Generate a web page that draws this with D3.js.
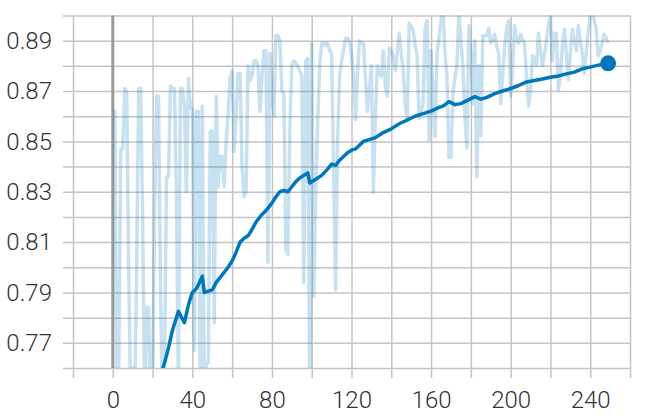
<!DOCTYPE html>
<html>
<head>
<meta charset="utf-8">
<script src="https://cdn.jsdelivr.net/npm/d3@7"></script>
<style>
  body { margin: 0; background: #fff; }
  text { font-family: Roboto, "Noto Sans", sans-serif; }
</style>
</head>
<body>
<div id="my_dataviz"></div>
<script>
// raw accuracy, one value per step (0 .. 249)
var rawValues = [
  0.862, 0.862, 0.745, 0.760, 0.847, 0.847, 0.871, 0.870, 0.800, 0.745,
  0.760, 0.745, 0.800, 0.871, 0.871, 0.820, 0.745, 0.784, 0.784, 0.745,
  0.750, 0.820, 0.868, 0.868, 0.790, 0.745, 0.760, 0.836, 0.836, 0.872,
  0.871, 0.871, 0.829, 0.750, 0.871, 0.871, 0.864, 0.830, 0.875, 0.863,
  0.863, 0.767, 0.862, 0.862, 0.745, 0.864, 0.745, 0.762, 0.762, 0.854,
  0.854, 0.778, 0.868, 0.832, 0.844, 0.844, 0.832, 0.850, 0.861, 0.875,
  0.878, 0.846, 0.860, 0.877, 0.877, 0.840, 0.828, 0.830, 0.880, 0.874,
  0.876, 0.882, 0.882, 0.880, 0.862, 0.876, 0.886, 0.886, 0.802, 0.885,
  0.870, 0.860, 0.892, 0.892, 0.890, 0.870, 0.869, 0.807, 0.805, 0.855,
  0.880, 0.882, 0.881, 0.880, 0.878, 0.876, 0.794, 0.882, 0.883, 0.745,
  0.889, 0.7885, 0.830, 0.858, 0.880, 0.889, 0.889, 0.888, 0.889, 0.886,
  0.885, 0.840, 0.791, 0.850, 0.876, 0.882, 0.886, 0.891, 0.891, 0.890,
  0.884, 0.877, 0.8586, 0.876, 0.890, 0.889, 0.889, 0.875, 0.862, 0.870,
  0.880, 0.8297, 0.860, 0.880, 0.877, 0.876, 0.886, 0.872, 0.868, 0.887,
  0.886, 0.884, 0.878, 0.885, 0.893, 0.885, 0.878, 0.865, 0.858, 0.897,
  0.896, 0.894, 0.888, 0.884, 0.859, 0.862, 0.865, 0.895, 0.898, 0.8507,
  0.886, 0.870, 0.852, 0.885, 0.891, 0.898, 0.903, 0.885, 0.876, 0.8436,
  0.8436, 0.869, 0.875, 0.880, 0.901, 0.890, 0.880, 0.860, 0.8475, 0.896,
  0.885, 0.865, 0.890, 0.836, 0.880, 0.852, 0.892, 0.892, 0.892, 0.895,
  0.889, 0.890, 0.8925, 0.888, 0.885, 0.865, 0.876, 0.888, 0.895, 0.898,
  0.868, 0.880, 0.896, 0.890, 0.889, 0.8925, 0.890, 0.889, 0.875, 0.864,
  0.870, 0.884, 0.882, 0.880, 0.893, 0.886, 0.880, 0.885, 0.890, 0.896,
  0.900, 0.882, 0.893, 0.893, 0.8705, 0.876, 0.888, 0.8945, 0.885, 0.8745,
  0.885, 0.8945, 0.890, 0.886, 0.896, 0.890, 0.885, 0.877, 0.885, 0.894,
  0.900, 0.903, 0.898, 0.895, 0.884, 0.886, 0.889, 0.8925, 0.891, 0.889
];
var rawSteps = d3.range(rawValues.length);

// smoothed curve
var smoothSteps = [24, 26, 28, 30, 32, 33, 34, 36, 38, 40, 42, 43, 45, 46, 48, 50, 52, 55, 58, 60,
  62, 64, 66, 68, 70, 72, 75, 77, 80, 82, 84, 86, 88, 90, 92, 94, 96, 98, 99, 101,
  103, 105, 108, 110, 112, 114, 116, 118, 120, 122, 124, 126, 128, 130, 132, 134, 136, 140, 144, 148,
  152, 156, 160, 164, 166, 169, 172, 175, 178, 182, 185, 188, 192, 196, 200, 204, 208, 212, 216, 220,
  224, 228, 232, 236, 240, 244, 249];
var smoothValues = [0.757, 0.762, 0.768, 0.775, 0.780, 0.7825, 0.781, 0.778, 0.785, 0.790, 0.7915, 0.793, 0.7965, 0.790, 0.7905, 0.791, 0.794, 0.797, 0.800, 0.8025,
  0.806, 0.810, 0.8115, 0.8125, 0.815, 0.818, 0.821, 0.8225, 0.8255, 0.828, 0.830, 0.8305, 0.830, 0.832, 0.834, 0.8355, 0.8365, 0.8375, 0.8335, 0.8345,
  0.8355, 0.8365, 0.839, 0.841, 0.8405, 0.8425, 0.844, 0.8455, 0.8465, 0.847, 0.8485, 0.850, 0.8505, 0.851, 0.8515, 0.8525, 0.8535, 0.855, 0.857, 0.8585,
  0.860, 0.861, 0.862, 0.8635, 0.864, 0.8658, 0.8646, 0.865, 0.8662, 0.8678, 0.8668, 0.8675, 0.869, 0.870, 0.871, 0.8722, 0.8736, 0.8742, 0.8748, 0.8755,
  0.876, 0.8768, 0.8775, 0.8788, 0.8795, 0.8803, 0.881];

var xTicks = [0, 40, 80, 120, 160, 200, 240];
var yTicks = [0.77, 0.79, 0.81, 0.83, 0.85, 0.87, 0.89];

// size of the picture
var width = 654,
    height = 416;

// plot box in pixels
var plotLeft = 73, plotRight = 630, plotTop = 15.5, plotBottom = 368;

var svg = d3.select("#my_dataviz")
  .append("svg")
    .attr("width", width)
    .attr("height", height);

var x = d3.scaleLinear().domain([-20, 260]).range([plotLeft, plotRight]);
var y = d3.scaleLinear().domain([0.76, 0.90]).range([plotBottom, plotTop]);

// grid lines, they stick out a little past the plot like ticks
svg.append("g")
  .attr("class", "grid")
  .attr("transform", "translate(0," + (plotBottom + 10) + ")")
  .call(d3.axisBottom(x).tickValues(d3.range(-20, 261, 20)).tickSize(-(plotBottom + 10 - plotTop)).tickFormat(""));

svg.append("g")
  .attr("class", "grid")
  .attr("transform", "translate(" + (plotLeft - 10) + ",0)")
  .call(d3.axisLeft(y).tickValues(d3.range(0, 15).map(function(i) { return 0.76 + i * 0.01; })).tickSize(-(plotRight - plotLeft + 10)).tickFormat(""));

svg.selectAll(".grid .domain").remove();
svg.selectAll(".grid line")
  .attr("stroke", "#c4c4c4")
  .attr("stroke-width", 1.5);

// darker line at step 0
svg.append("line")
  .attr("x1", x(0)).attr("x2", x(0))
  .attr("y1", plotTop).attr("y2", plotBottom)
  .attr("stroke", "#9a9a9a")
  .attr("stroke-width", 3);

// tick labels
svg.append("g")
  .attr("transform", "translate(0," + (plotBottom + 10) + ")")
  .call(d3.axisBottom(x).tickValues(xTicks).tickSize(0).tickPadding(13));

svg.append("g")
  .attr("transform", "translate(" + (plotLeft - 10) + ",0)")
  .call(d3.axisLeft(y).tickValues(yTicks).tickSize(0).tickPadding(11).tickFormat(d3.format(".2f")));

svg.selectAll(".domain").remove();
svg.selectAll(".tick text")
  .attr("fill", "#333")
  .style("font-size", "24px")
  .style("font-weight", 300);

// clip the lines to the plot
svg.append("clipPath")
  .attr("id", "plot-clip")
  .append("rect")
    .attr("x", plotLeft)
    .attr("y", plotTop)
    .attr("width", plotRight - plotLeft)
    .attr("height", plotBottom - plotTop);

var line = d3.line()
  .x(function(d) { return x(d[0]); })
  .y(function(d) { return y(d[1]); });

var rawData = rawSteps.map(function(s, i) { return [s, rawValues[i]]; });
var smoothData = smoothSteps.map(function(s, i) { return [s, smoothValues[i]]; });

svg.append("path")
  .datum(rawData)
  .attr("clip-path", "url(#plot-clip)")
  .attr("d", line)
  .attr("fill", "none")
  .attr("stroke", "#0077bb")
  .attr("stroke-opacity", 0.22)
  .attr("stroke-width", 3.5)
  .attr("stroke-linejoin", "round");

svg.append("path")
  .datum(smoothData)
  .attr("clip-path", "url(#plot-clip)")
  .attr("d", line)
  .attr("fill", "none")
  .attr("stroke", "#0077bb")
  .attr("stroke-width", 3.5)
  .attr("stroke-linejoin", "round")
  .attr("stroke-linecap", "round");

// marker on the last smoothed point
var last = smoothData[smoothData.length - 1];
svg.append("circle")
  .attr("cx", x(last[0]))
  .attr("cy", y(last[1]))
  .attr("r", 8)
  .attr("fill", "#0077bb");
</script>
</body>
</html>
